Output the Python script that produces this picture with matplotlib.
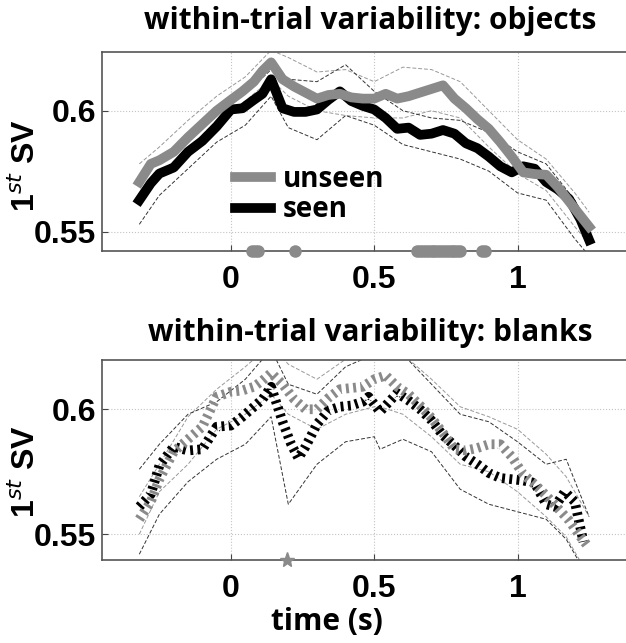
import matplotlib
matplotlib.use("Agg")
import matplotlib.pyplot as plt
import numpy as np

plt.rcParams['mathtext.fontset'] = 'custom'
plt.rcParams['mathtext.rm'] = 'Liberation Sans:bold'
plt.rcParams['mathtext.bf'] = 'Liberation Sans:bold'

# ---------------- data: objects (top) ----------------
t_obj = [-0.32, -0.28, -0.25, -0.2, -0.15, -0.1, -0.05, 0, 0.04, 0.08, 0.11, 0.14,
         0.18, 0.22, 0.26, 0.3, 0.34, 0.38, 0.42, 0.46, 0.5, 0.54, 0.58, 0.62, 0.66,
         0.7, 0.74, 0.78, 0.82, 0.86, 0.9, 0.94, 0.98, 1.02, 1.06, 1.1, 1.14, 1.18,
         1.22, 1.25]
obj_unseen = [0.5705, 0.578, 0.5795, 0.583, 0.589, 0.5945, 0.600, 0.6045, 0.608, 0.612,
              0.6165, 0.620, 0.613, 0.610, 0.6075, 0.605, 0.6065, 0.607, 0.6055, 0.605,
              0.605, 0.607, 0.605, 0.606, 0.6075, 0.609, 0.6105, 0.605, 0.601, 0.5965,
              0.5925, 0.587, 0.581, 0.5745, 0.5738, 0.5735, 0.5685, 0.5625, 0.5565, 0.552]
obj_seen = [0.563, 0.570, 0.574, 0.5765, 0.583, 0.5875, 0.5935, 0.6005, 0.601, 0.6045,
            0.607, 0.613, 0.601, 0.5995, 0.5995, 0.6005, 0.6045, 0.608, 0.604, 0.602,
            0.6005, 0.597, 0.5925, 0.593, 0.590, 0.5905, 0.592, 0.5905, 0.5865, 0.5845,
            0.581, 0.577, 0.5745, 0.577, 0.576, 0.5705, 0.5675, 0.5635, 0.555, 0.5465]

t_obj_ci = [-0.32, -0.25, -0.15, -0.05, 0.05, 0.14, 0.2, 0.3, 0.4, 0.5, 0.6, 0.7, 0.8,
            0.9, 1.0, 1.1, 1.2, 1.25]
obj_unseen_hi = [0.578, 0.585, 0.596, 0.606, 0.614, 0.625, 0.622, 0.616, 0.617, 0.612,
                 0.618, 0.617, 0.612, 0.600, 0.588, 0.580, 0.566, 0.558]
obj_unseen_lo = [0.565, 0.574, 0.584, 0.596, 0.604, 0.613, 0.606, 0.600, 0.598, 0.597,
                 0.597, 0.600, 0.597, 0.585, 0.574, 0.567, 0.552, 0.545]
obj_seen_hi = [0.570, 0.580, 0.590, 0.600, 0.607, 0.617, 0.613, 0.612, 0.619, 0.608,
               0.600, 0.597, 0.596, 0.591, 0.583, 0.578, 0.563, 0.552]
obj_seen_lo = [0.553, 0.565, 0.576, 0.587, 0.594, 0.606, 0.593, 0.588, 0.598, 0.594,
               0.586, 0.583, 0.580, 0.575, 0.566, 0.563, 0.547, 0.540]

obj_sig_t = [0.075, 0.085, 0.095, 0.225, 0.65, 0.66, 0.67, 0.68, 0.69, 0.70, 0.71,
             0.72, 0.73, 0.74, 0.75, 0.76, 0.77, 0.78, 0.79, 0.80, 0.875, 0.885]

# ---------------- data: blanks (bottom) ----------------
t_blk_unseen = [-0.32, -0.28, -0.25, -0.2, -0.15, -0.1, -0.05, 0, 0.04, 0.08, 0.11, 0.14,
                0.18, 0.22, 0.26, 0.3, 0.34, 0.38, 0.42, 0.46, 0.5, 0.54, 0.58, 0.62,
                0.66, 0.7, 0.74, 0.78, 0.82, 0.86, 0.9, 0.94, 0.98, 1.02, 1.06, 1.1,
                1.14, 1.18, 1.22, 1.25]
blk_unseen = [0.556, 0.563, 0.572, 0.583, 0.588, 0.593, 0.605, 0.607, 0.6075, 0.609,
              0.6115, 0.6145, 0.610, 0.604, 0.600, 0.600, 0.6045, 0.608, 0.6085, 0.609,
              0.612, 0.6135, 0.609, 0.606, 0.6015, 0.5965, 0.5905, 0.584, 0.5835,
              0.5845, 0.586, 0.586, 0.581, 0.574, 0.570, 0.5655, 0.5605, 0.5555,
              0.549, 0.5445]
t_blk_seen = [-0.32, -0.28, -0.25, -0.2, -0.15, -0.1, -0.05, 0, 0.04, 0.08, 0.11, 0.14,
              0.18, 0.21, 0.235, 0.26, 0.3, 0.34, 0.38, 0.42, 0.46, 0.48, 0.52, 0.58,
              0.62, 0.66, 0.7, 0.74, 0.78, 0.82, 0.86, 0.9, 0.94, 0.98, 1.02, 1.06,
              1.1, 1.13, 1.165, 1.2, 1.23]
blk_seen = [0.561, 0.566, 0.5775, 0.585, 0.5835, 0.584, 0.593, 0.5935, 0.597, 0.601,
            0.604, 0.609, 0.595, 0.586, 0.5805, 0.585, 0.594, 0.5995, 0.601, 0.6015,
            0.603, 0.605, 0.599, 0.6065, 0.6035, 0.600, 0.5955, 0.5895, 0.5855, 0.581,
            0.578, 0.5745, 0.5725, 0.572, 0.5715, 0.5705, 0.562, 0.561, 0.567, 0.563,
            0.547]

t_blk_ci = [-0.32, -0.25, -0.15, -0.05, 0.05, 0.14, 0.2, 0.3, 0.4, 0.5, 0.52, 0.6, 0.7,
            0.8, 0.9, 1.0, 1.1, 1.17, 1.25]
blk_unseen_hi = [0.565, 0.578, 0.597, 0.608, 0.617, 0.626, 0.618, 0.612, 0.620, 0.626,
                 0.626, 0.622, 0.612, 0.601, 0.597, 0.592, 0.582, 0.573, 0.557]
blk_unseen_lo = [0.550, 0.567, 0.578, 0.592, 0.598, 0.606, 0.598, 0.592, 0.598, 0.601,
                 0.601, 0.598, 0.589, 0.578, 0.575, 0.567, 0.557, 0.549, 0.533]
blk_seen_hi = [0.576, 0.586, 0.598, 0.603, 0.612, 0.624, 0.610, 0.606, 0.617, 0.622,
               0.624, 0.622, 0.610, 0.598, 0.595, 0.587, 0.578, 0.580, 0.557]
blk_seen_lo = [0.542, 0.558, 0.571, 0.580, 0.586, 0.597, 0.562, 0.578, 0.587, 0.589,
               0.584, 0.588, 0.583, 0.568, 0.562, 0.559, 0.556, 0.548, 0.532]

blk_sig_t = [0.195]

xticks = [0, 0.5, 1]
xticklabels = ['0', '0.5', '1']
yticks = [0.55, 0.6]
yticklabels = ['0.55', '0.6']
titles = ['within-trial variability: objects', 'within-trial variability: blanks']
legend_labels = ['unseen', 'seen']

GRAY = '#8a8a8a'
BLACK = '#000000'
W, H = 626, 643
fig = plt.figure(figsize=(W / 100, H / 100), dpi=100)

ax1 = fig.add_axes([102 / W, 1 - 250.7 / H, (W - 102) / W, 199 / H])
ax2 = fig.add_axes([102 / W, 1 - 560 / H, (W - 102) / W, 200 / H])

xl = ((102 - 231) / 286.5, (626 - 231) / 286.5)

def style(ax, ylim):
    ax.set_xlim(*xl)
    ax.set_ylim(*ylim)
    ax.set_xticks(xticks)
    ax.set_xticklabels(xticklabels)
    ax.set_yticks(yticks)
    ax.set_yticklabels(yticklabels)
    for lab in ax.get_xticklabels() + ax.get_yticklabels():
        lab.set_fontfamily('Liberation Sans')
        lab.set_fontweight('bold')
        lab.set_fontsize(23)
    ax.tick_params(axis='x', direction='in', length=4, pad=10, color='#444444')
    ax.tick_params(axis='y', direction='in', length=4, pad=4, color='#444444')
    ax.grid(True, linestyle=':', color='#c4c4c4', linewidth=0.8)
    ax.spines['right'].set_visible(False)
    for s in ['top', 'left', 'bottom']:
        ax.spines[s].set_color('#555555')
        ax.spines[s].set_linewidth(1.2)
    ax.set_ylabel(r'$1^{st}$ SV', fontfamily='Liberation Sans', fontweight='bold',
                  fontsize=23)

ci_ls = (0, (4, 2))
# top panel
style(ax1, (0.5421, 0.6244))
ax1.plot(t_obj_ci, obj_unseen_hi, color='#999999', lw=0.7, ls=ci_ls)
ax1.plot(t_obj_ci, obj_unseen_lo, color='#999999', lw=0.7, ls=ci_ls)
ax1.plot(t_obj_ci, obj_seen_hi, color='#333333', lw=0.7, ls=ci_ls)
ax1.plot(t_obj_ci, obj_seen_lo, color='#333333', lw=0.7, ls=ci_ls)
ax1.plot(t_obj, obj_seen, color=BLACK, lw=7, solid_joinstyle='round', label=legend_labels[1])
ax1.plot(t_obj, obj_unseen, color=GRAY, lw=7, solid_joinstyle='round', label=legend_labels[0])
ax1.plot(obj_sig_t, [0.5421] * len(obj_sig_t), 'o', color=GRAY, ms=9, mec='none',
         clip_on=False, zorder=5)

h, l = ax1.get_legend_handles_labels()
leg = ax1.legend([h[1], h[0]], [l[1], l[0]], loc='upper left',
                 bbox_to_anchor=(0.228, 0.50), frameon=False,
                 prop={'family': 'Open Sans', 'weight': 'bold', 'size': 20},
                 handlelength=1.3, handletextpad=0.4, labelspacing=0.05, borderpad=0)

# bottom panel
style(ax2, (0.5397, 0.6197))
ax2.plot(t_blk_ci, blk_unseen_hi, color='#999999', lw=0.7, ls=ci_ls)
ax2.plot(t_blk_ci, blk_unseen_lo, color='#999999', lw=0.7, ls=ci_ls)
ax2.plot(t_blk_ci, blk_seen_hi, color='#333333', lw=0.7, ls=ci_ls)
ax2.plot(t_blk_ci, blk_seen_lo, color='#333333', lw=0.7, ls=ci_ls)
ax2.plot(t_blk_seen, blk_seen, color=BLACK, lw=7, ls=(0, (0.3, 0.45)),
         dash_capstyle='butt')
ax2.plot(t_blk_unseen, blk_unseen, color=GRAY, lw=7, ls=(0, (0.3, 0.45)),
         dash_capstyle='butt')
ax2.plot(blk_sig_t, [0.5397] * len(blk_sig_t), '*', color=GRAY, ms=11,
         clip_on=False, zorder=5)

ax1.yaxis.set_label_coords(-0.115, 0.43)
ax2.yaxis.set_label_coords(-0.115, 0.44)

fig.text(370 / W, 1 - 21 / H, titles[0], ha='center', va='center',
         fontfamily='Open Sans', fontweight='bold', fontsize=21.5)
fig.text(370 / W, 1 - 333 / H, titles[1], ha='center', va='center',
         fontfamily='Open Sans', fontweight='bold', fontsize=21.5)
fig.text(327 / W, 1 - 622 / H, 'time (s)', ha='center', va='center',
         fontfamily='Open Sans', fontweight='bold', fontsize=21.5)

fig.savefig('out.png', dpi=100)
